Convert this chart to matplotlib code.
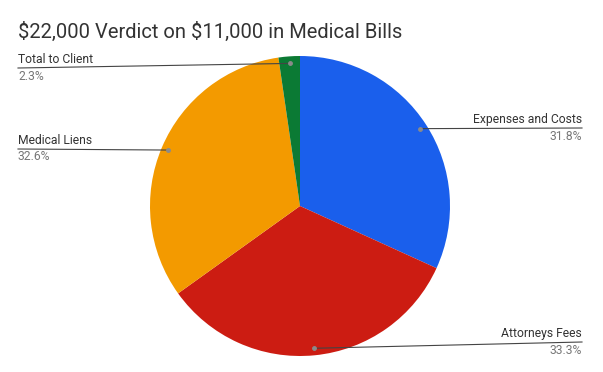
import matplotlib
matplotlib.use('Agg')
from matplotlib import pyplot as plt
import numpy as np

plt.rcParams['font.family'] = ['Roboto', 'DejaVu Sans']
plt.rcParams['text.parse_math'] = False

title = '$22,000 Verdict on $11,000 in Medical Bills'
categories = ['Expenses and Costs', 'Attorneys Fees', 'Medical Liens', 'Total to Client']
shares = [31.8, 33.3, 32.6, 2.3]
colors = ['#1a5fec', '#cc1c12', '#f39a00', '#0b7a34']

# label placement in pixels (x, y of the leader line end, alignment)
label_pos = [(582, 128, 'right'), (582, 342, 'right'), (18, 149, 'left'), (18, 68, 'left')]

W, H = 603, 372
fig = plt.figure(figsize=(W / 100, H / 100), dpi=100)
ax = fig.add_axes([0, 0, 1, 1])

cx, cy, R = 300, H - 206, 150
wedges, _ = ax.pie(shares, colors=colors, startangle=90, counterclock=False,
                   center=(cx, cy), radius=R, frame=True,
                   wedgeprops=dict(edgecolor='none'))
ax.set_xlim(0, W)
ax.set_ylim(0, H)
ax.set_aspect('equal')
ax.axis('off')

for w, name, val, (lx, ly, ha) in zip(wedges, categories, shares, label_pos):
    mid = np.deg2rad((w.theta1 + w.theta2) / 2)
    px = cx + 0.953 * R * np.cos(mid)
    py = cy + 0.953 * R * np.sin(mid)
    ly = H - ly
    ax.plot([px, lx], [py, ly], color='#444444', lw=0.8, zorder=3)
    ax.plot(px, py, 'o', color='#8a8a8a', ms=2.5, zorder=4)
    ax.text(lx, ly + 2, name, ha=ha, va='bottom', fontsize=8.7, color='#333333')
    ax.text(lx, ly - 1.5, f'{val}%', ha=ha, va='top', fontsize=8.7, color='#777777')

fig.text(18 / W, 1 - 32 / H, title, ha='left', va='center', fontsize=14.5, color='#333333')

fig.savefig('out.png', dpi=100)
